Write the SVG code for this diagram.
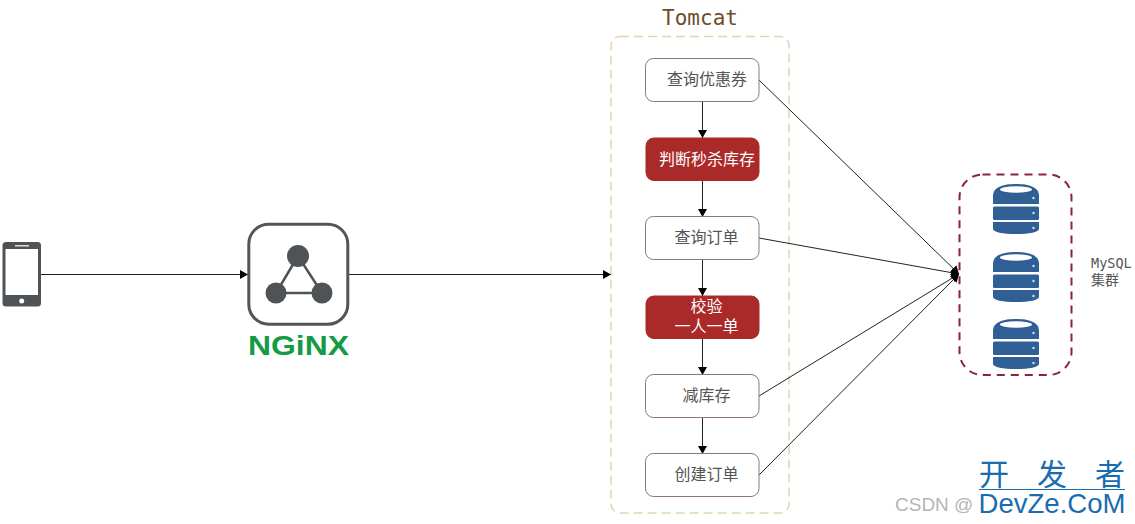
<svg xmlns="http://www.w3.org/2000/svg" width="1135" height="524" viewBox="0 0 1135 524">
<style>
text{font-family:"Noto Sans CJK SC","Noto Sans",sans-serif;font-size:16px;text-anchor:middle}
.light rect{fill:#fff;stroke:#8f7678;stroke-width:1}
.light text{fill:#555}
.red rect{fill:#aa2a2a;stroke:#aa2a2a;stroke-width:1}
.red text{fill:#fff}
.cn{stroke:#222;stroke-width:1;fill:none;marker-end:url(#arr)}
.db{fill:#2f5f95}
</style>
<defs>
<marker id="arr" markerUnits="userSpaceOnUse" markerWidth="10" markerHeight="10" refX="8" refY="4.500" orient="auto"><path d="M0 0L8 4.500L0 9Z" fill="#000"/></marker>
<g id="cyl">
<path class="db" d="M0 12C0 3 10 0 23 0S46 3 46 12V20H0Z"/>
<ellipse cx="23" cy="5.500" rx="16" ry="3.200" fill="#fff"/>
<rect class="db" y="22.500" width="46" height="13.500" rx="1.500"/>
<path class="db" d="M0 38H46V45C46 48 36 50 23 50S0 48 0 45Z"/>
<circle cx="40.500" cy="14" r="1.200" fill="#cfe3f5"/><circle cx="40.500" cy="29" r="1.200" fill="#cfe3f5"/><circle cx="40.500" cy="44" r="1.200" fill="#cfe3f5"/>
</g>
</defs>
<rect width="1135" height="524" fill="#fff"/>

<g id="tomcat">
<rect x="611" y="36.500" width="178" height="476.500" rx="9" fill="none" stroke="#e3d3b5" stroke-width="1.500" stroke-dasharray="9 5"/>
<text x="700" y="25" style="font-family:'DejaVu Sans Mono',monospace;font-size:21px" fill="#6e4c2a">Tomcat</text>
</g>

<g id="connectors">
<path class="cn" d="M41 274.500H248"/>
<path class="cn" d="M349 274.500H611"/>
<path class="cn" d="M702.500 101V138"/>
<path class="cn" d="M702.500 180V217"/>
<path class="cn" d="M702.500 259V296"/>
<path class="cn" d="M702.500 338V375"/>
<path class="cn" d="M702.500 417V454"/>
<path class="cn" d="M759 80L959 274"/>
<path class="cn" d="M759 238L959 274"/>
<path class="cn" d="M759 396L959 274"/>
<path class="cn" d="M759 475L959 274"/>
</g>

<g id="phone">
<rect x="2.500" y="242" width="38.500" height="64.500" rx="3.500" fill="#505356"/>
<rect x="5.500" y="249" width="32.500" height="46" fill="#fff"/>
<rect x="15" y="245" width="14" height="1.500" fill="#ddd"/>
<circle cx="21.700" cy="301" r="2.500" fill="#fff"/>
</g>

<g id="nginx">
<rect x="248.800" y="224.200" width="99" height="100" rx="20" fill="#fff" stroke="#555" stroke-width="3"/>
<path d="M298 256L276 293H322Z" fill="none" stroke="#4f5355" stroke-width="2.500"/>
<circle cx="298" cy="256" r="11" fill="#4f5355"/>
<circle cx="276" cy="293" r="10.500" fill="#4f5355"/>
<circle cx="322" cy="293" r="10.500" fill="#4f5355"/>
<text x="298.500" y="355" textLength="101" lengthAdjust="spacingAndGlyphs" style="font-family:'Liberation Sans',sans-serif;font-weight:bold;font-size:28px" fill="#159a45">NGiNX</text>
</g>

<g id="n1" class="light"><rect x="645.500" y="58.500" width="113.500" height="43" rx="8"/><text x="707" y="85">查询优惠券</text></g>
<g id="n2" class="red"><rect x="646" y="138" width="113" height="42.500" rx="8"/><text x="707" y="165">判断秒杀库存</text></g>
<g id="n3" class="light"><rect x="645.500" y="216.500" width="113.500" height="43" rx="8"/><text x="706.500" y="243">查询订单</text></g>
<g id="n4" class="red"><rect x="646" y="296" width="113" height="42.500" rx="8"/><text y="312"><tspan x="706.500">校验</tspan><tspan x="706.500" dy="20">一人一单</tspan></text></g>
<g id="n5" class="light"><rect x="645.500" y="374.500" width="113.500" height="43" rx="8"/><text x="706.500" y="401">减库存</text></g>
<g id="n6" class="light"><rect x="645.500" y="453.500" width="113.500" height="43" rx="8"/><text x="706.500" y="480">创建订单</text></g>

<g id="mysql">
<rect x="959.500" y="174.500" width="112" height="200.500" rx="23" fill="none" stroke="#8a2438" stroke-width="2" stroke-dasharray="8 6"/>
<use href="#cyl" x="993" y="184"/>
<use href="#cyl" x="993" y="252"/>
<use href="#cyl" x="993" y="319"/>
<text x="1091" y="268" style="font-family:'DejaVu Sans Mono',monospace;font-size:13.500px;text-anchor:start" fill="#555">MySQL</text>
<text x="1091" y="285" style="font-size:14px;text-anchor:start" fill="#555">集群</text>
</g>

<g id="watermark">
<text x="895" y="511" style="font-family:'Liberation Sans',sans-serif;font-size:19px;text-anchor:start" fill="#b5b5b5">CSDN @</text>
<text x="1052" y="485" textLength="146" style="font-size:30px" fill="#1a6cb0">开发者</text>
<rect x="979" y="489" width="146" height="1" fill="#1a6cb0"/>
<text x="1052" y="513" textLength="147" lengthAdjust="spacingAndGlyphs" style="font-family:'Liberation Sans',sans-serif;font-size:28px" fill="#1a6cb0">DevZe.CoM</text>
</g>
</svg>
